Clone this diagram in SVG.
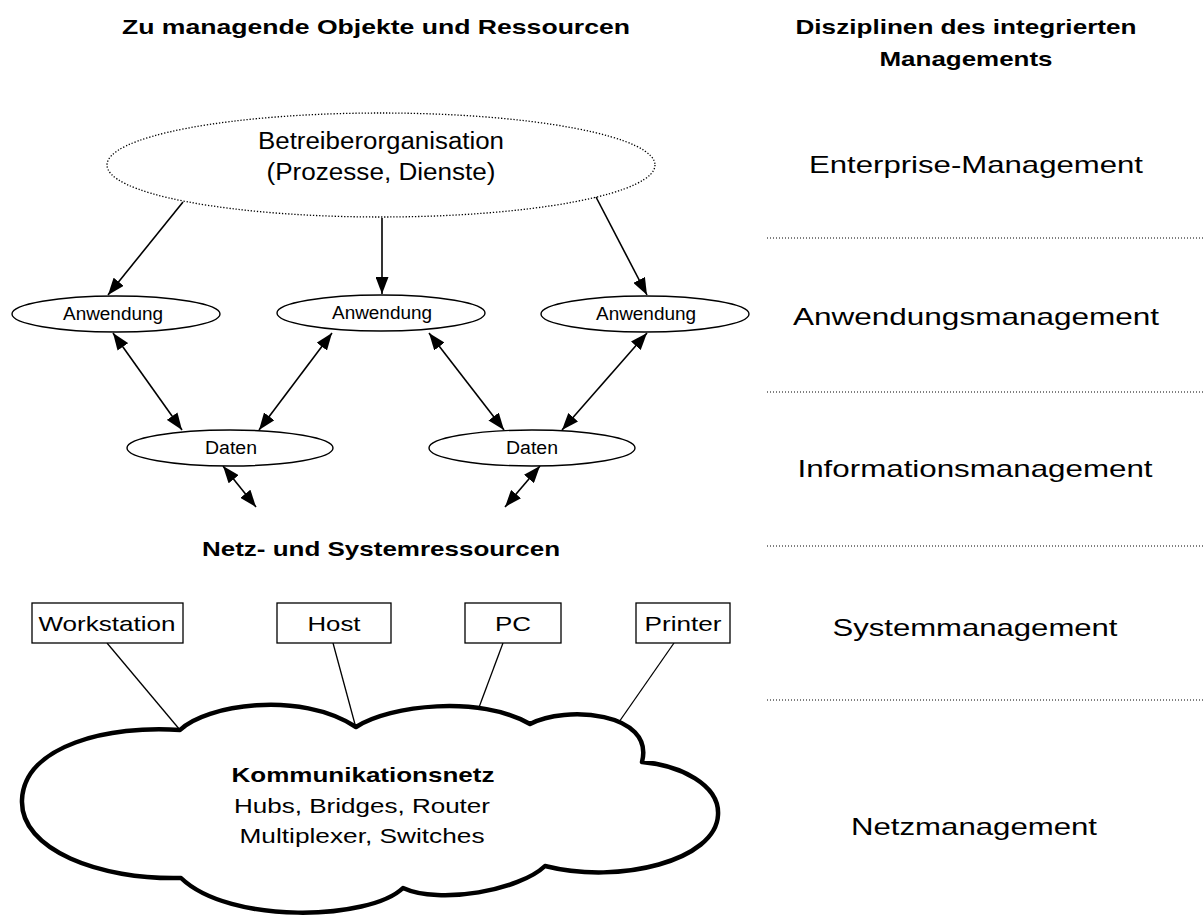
<svg xmlns="http://www.w3.org/2000/svg" width="1203" height="918" viewBox="0 0 1203 918">
  <style>
    text { font-family: "Liberation Sans", Arial, sans-serif; fill: #000; }
    .head { font-size: 21px; font-weight: bold; }
    .disc { font-size: 24px; text-anchor: middle; }
    .mid { text-anchor: middle; }
    .org { font-size: 23px; }
    .small { font-size: 18px; }
    .box { font-size: 21px; }
    .net { font-size: 21px; }
    .oval { fill: #fff; stroke: #000; stroke-width: 1.4; }
    .dots { fill: none; stroke: #000; stroke-width: 1.3; stroke-dasharray: 1.3 1.8; }
    .sep { stroke: #000; stroke-width: 1; stroke-dasharray: 1 2; }
    .rect { fill: #fff; stroke: #000; stroke-width: 1.3; }
    .link { stroke: #000; stroke-width: 1.3; fill: none; }
    .arrow { stroke: #000; stroke-width: 1.6; fill: none; marker-end: url(#head); }
    .both { stroke: #000; stroke-width: 1.6; fill: none; marker-end: url(#head); marker-start: url(#head); }
    .cloud { fill: #fff; stroke: #000; stroke-width: 4.5; stroke-linejoin: round; }
  </style>
  <defs>
    <marker id="head" markerUnits="userSpaceOnUse" markerWidth="18" markerHeight="13" viewBox="0 0 18 13" refX="17" refY="6.5" orient="auto-start-reverse">
      <path d="M0,0 L17,6.5 L0,13 z" fill="#000"/>
    </marker>
  </defs>

  <!-- column headings -->
  <g id="headings">
    <text class="head mid" x="376" y="34" textLength="508" lengthAdjust="spacingAndGlyphs">Zu managende Objekte und Ressourcen</text>
    <text class="head mid" x="966" y="34" textLength="341" lengthAdjust="spacingAndGlyphs">Disziplinen des integrierten</text>
    <text class="head mid" x="966" y="66" textLength="173" lengthAdjust="spacingAndGlyphs">Managements</text>
  </g>

  <!-- management disciplines and separators -->
  <g id="disciplines">
    <text class="disc" x="976" y="173" textLength="334" lengthAdjust="spacingAndGlyphs">Enterprise-Management</text>
    <line class="sep" x1="767" y1="238" x2="1203" y2="238"/>
    <text class="disc" x="976" y="325" textLength="366" lengthAdjust="spacingAndGlyphs">Anwendungsmanagement</text>
    <line class="sep" x1="767" y1="392" x2="1203" y2="392"/>
    <text class="disc" x="975" y="477" textLength="355" lengthAdjust="spacingAndGlyphs">Informationsmanagement</text>
    <line class="sep" x1="767" y1="546" x2="1203" y2="546"/>
    <text class="disc" x="975" y="636" textLength="285" lengthAdjust="spacingAndGlyphs">Systemmanagement</text>
    <line class="sep" x1="767" y1="700" x2="1203" y2="700"/>
    <text class="disc" x="974" y="835" textLength="246" lengthAdjust="spacingAndGlyphs">Netzmanagement</text>
  </g>

  <!-- connectors -->
  <g id="connectors">
    <line class="arrow" x1="183" y1="202" x2="108" y2="295"/>
    <line class="arrow" x1="382" y1="218" x2="382" y2="294"/>
    <line class="arrow" x1="596" y1="197" x2="647" y2="295"/>
    <line class="both" x1="113" y1="333" x2="182" y2="430"/>
    <line class="both" x1="332" y1="333" x2="259" y2="430"/>
    <line class="both" x1="429" y1="333" x2="504" y2="430"/>
    <line class="both" x1="647" y1="333" x2="562" y2="430"/>
    <line class="both" x1="223" y1="466" x2="256" y2="507"/>
    <line class="both" x1="540" y1="466" x2="505" y2="507"/>
    <line class="link" x1="107" y1="643" x2="180" y2="730"/>
    <line class="link" x1="333" y1="643" x2="356" y2="728"/>
    <line class="link" x1="503" y1="643" x2="478" y2="710"/>
    <line class="link" x1="674" y1="643" x2="619" y2="722"/>
  </g>

  <g id="betreiber">
    <ellipse class="dots" cx="381" cy="165" rx="274" ry="52"/>
    <text class="org mid" x="381" y="149" textLength="246" lengthAdjust="spacingAndGlyphs">Betreiberorganisation</text>
    <text class="org mid" x="381" y="180" textLength="229" lengthAdjust="spacingAndGlyphs">(Prozesse, Dienste)</text>
  </g>

  <g id="anwendung1">
    <ellipse class="oval" cx="116" cy="314" rx="104" ry="18"/>
    <text class="small mid" x="113" y="320" textLength="100" lengthAdjust="spacingAndGlyphs">Anwendung</text>
  </g>
  <g id="anwendung2">
    <ellipse class="oval" cx="381" cy="313" rx="104" ry="18"/>
    <text class="small mid" x="382" y="319" textLength="100" lengthAdjust="spacingAndGlyphs">Anwendung</text>
  </g>
  <g id="anwendung3">
    <ellipse class="oval" cx="645" cy="314" rx="104" ry="18"/>
    <text class="small mid" x="646" y="320" textLength="100" lengthAdjust="spacingAndGlyphs">Anwendung</text>
  </g>

  <g id="daten1">
    <ellipse class="oval" cx="230" cy="448" rx="103" ry="18"/>
    <text class="small mid" x="231" y="454" textLength="52" lengthAdjust="spacingAndGlyphs">Daten</text>
  </g>
  <g id="daten2">
    <ellipse class="oval" cx="532" cy="448" rx="103" ry="18"/>
    <text class="small mid" x="532" y="454" textLength="52" lengthAdjust="spacingAndGlyphs">Daten</text>
  </g>

  <g id="ressourcen-label">
    <text class="head mid" x="381" y="556" textLength="358" lengthAdjust="spacingAndGlyphs">Netz- und Systemressourcen</text>
  </g>

  <g id="workstation">
    <rect class="rect" x="32" y="603" width="151" height="40"/>
    <text class="box mid" x="107" y="631" textLength="137" lengthAdjust="spacingAndGlyphs">Workstation</text>
  </g>
  <g id="host">
    <rect class="rect" x="277" y="603" width="114" height="40"/>
    <text class="box mid" x="334" y="631" textLength="53" lengthAdjust="spacingAndGlyphs">Host</text>
  </g>
  <g id="pc">
    <rect class="rect" x="465" y="603" width="96" height="40"/>
    <text class="box mid" x="513" y="631" textLength="36" lengthAdjust="spacingAndGlyphs">PC</text>
  </g>
  <g id="printer">
    <rect class="rect" x="636" y="603" width="94" height="40"/>
    <text class="box mid" x="683" y="631" textLength="77" lengthAdjust="spacingAndGlyphs">Printer</text>
  </g>

  <g id="kommunikationsnetz">
    <path class="cloud" d="M180,730 C205,705 300,690 356,727 C390,705 480,695 530,724 C565,705 655,712 642,762 C680,765 720,785 718,815 C716,860 620,885 545,866 C520,890 440,905 403,888 C370,920 230,925 181,878 C100,880 20,850 22,800 C24,745 110,725 180,730 Z"/>
    <text class="net mid" x="363" y="782" font-weight="bold" textLength="263" lengthAdjust="spacingAndGlyphs">Kommunikationsnetz</text>
    <text class="net mid" x="362" y="813" textLength="256" lengthAdjust="spacingAndGlyphs">Hubs, Bridges, Router</text>
    <text class="net mid" x="362" y="843" textLength="245" lengthAdjust="spacingAndGlyphs">Multiplexer, Switches</text>
  </g>
</svg>
